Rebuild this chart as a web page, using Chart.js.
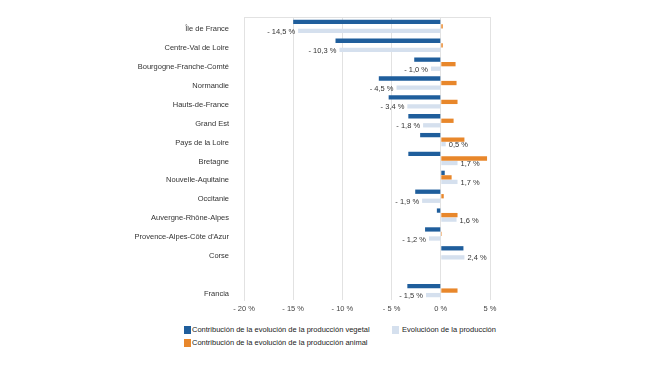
<!DOCTYPE html>
<html>
<head>
<meta charset="utf-8">
<script src="https://cdn.jsdelivr.net/npm/chart.js@4"></script>
<style>
  body { margin: 0; background: #fff; font-family: "Liberation Sans", Arial, sans-serif; }
  #wrap { position: absolute; left: 0; top: 0; width: 650px; height: 321px; }
  .legend { position: absolute; font-size: 7.5px; color: #222; }
  .legend span.box { display: inline-block; width: 7px; height: 8px; vertical-align: -2px; margin-right: 1px; }
</style>
</head>
<body>
<div id="wrap"><canvas id="chart"></canvas></div>
<div class="legend" style="left:184px; top:325px;"><span class="box" style="background:#1f5e9c"></span>Contribución de la evolución de la producción vegetal</div>
<div class="legend" style="left:392px; top:325px;"><span class="box" style="background:#d5e0ee"></span>&nbsp;Evolucióon de la producción</div>
<div class="legend" style="left:184px; top:338px;"><span class="box" style="background:#e8872b"></span>Contribución de la evolución de la producción animal</div>
<script>
const regions = ['Île de France', 'Centre-Val de Loire', 'Bourgogne-Franche-Comté', 'Normandie',
  'Hauts-de-France', 'Grand Est', 'Pays de la Loire', 'Bretagne', 'Nouvelle-Aquitaine', 'Occitanie',
  'Auvergne-Rhône-Alpes', 'Provence-Alpes-Côte d\'Azur', 'Corse', '', 'Francia'];
const vegetal = [-15.0, -10.7, -2.7, -6.3, -5.3, -3.3, -2.1, -3.3, 0.4, -2.6, -0.4, -1.6, 2.3, null, -3.4];
const animal = [0.2, 0.2, 1.5, 1.6, 1.7, 1.3, 2.4, 4.7, 1.1, 0.3, 1.7, 0.1, 0, null, 1.7];
const evolucion = [-14.5, -10.3, -1.0, -4.5, -3.4, -1.8, 0.5, 1.7, 1.7, -1.9, 1.6, -1.2, 2.4, null, -1.5];
const xTicks = [-20, -15, -10, -5, 0, 5];

function pct(v) {
  const s = Math.abs(v).toFixed(1).replace('.', ',') + ' %';
  return v < 0 ? '- ' + s : s;
}

const valueLabels = {
  id: 'valueLabels',
  afterDatasetsDraw(chart) {
    const ctx = chart.ctx;
    const meta = chart.getDatasetMeta(2);
    ctx.save();
    ctx.font = '7.5px "Liberation Sans", Arial, sans-serif';
    ctx.fillStyle = '#333';
    ctx.textBaseline = 'middle';
    meta.data.forEach((bar, i) => {
      const v = evolucion[i];
      if (v === null) return;
      if (v < 0) {
        ctx.textAlign = 'right';
        ctx.fillText(pct(v), bar.x - 3, bar.y + 1);
      } else {
        ctx.textAlign = 'left';
        ctx.fillText(pct(v), bar.x + 3, bar.y + 1);
      }
    });
    // top border line
    const a = chart.chartArea;
    ctx.strokeStyle = '#e2e2e2';
    ctx.lineWidth = 1;
    ctx.beginPath();
    ctx.moveTo(a.left, a.top + 0.5);
    ctx.lineTo(a.right, a.top + 0.5);
    ctx.stroke();
    ctx.restore();
  }
};

new Chart(document.getElementById('chart'), {
  type: 'bar',
  data: {
    labels: regions,
    datasets: [
      { label: 'vegetal', data: vegetal, backgroundColor: '#1f5e9c' },
      { label: 'animal', data: animal, backgroundColor: '#e8872b' },
      { label: 'evolucion', data: evolucion, backgroundColor: '#d5e0ee' }
    ]
  },
  options: {
    indexAxis: 'y',
    responsive: true,
    maintainAspectRatio: false,
    animation: false,
    categoryPercentage: 0.72,
    barPercentage: 0.95,
    layout: { padding: { top: 17, right: 160, left: 0, bottom: 4 } },
    plugins: { legend: { display: false }, tooltip: { enabled: false } },
    scales: {
      x: {
        min: -20, max: 5,
        afterBuildTicks: axis => { axis.ticks = xTicks.map(v => ({ value: v })); },
        ticks: {
          callback: v => (v < 0 ? '- ' + Math.abs(v) : v) + ' %',
          color: '#444',
          font: { size: 7.5, family: '"Liberation Sans", Arial, sans-serif' },
          padding: 4
        },
        grid: { color: '#e2e2e2', drawTicks: false },
        border: { display: false }
      },
      y: {
        afterFit: axis => { axis.width = 244; },
        ticks: {
          color: '#333',
          font: { size: 7.5, family: '"Liberation Sans", Arial, sans-serif' },
          padding: 7,
          labelOffset: 3,
          autoSkip: false
        },
        grid: { display: false },
        border: { color: '#e2e2e2' }
      }
    }
  },
  plugins: [valueLabels]
});
</script>
</body>
</html>
